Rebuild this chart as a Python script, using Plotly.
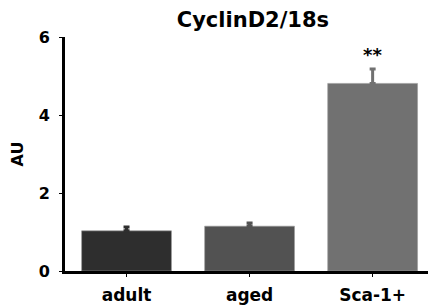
import plotly.graph_objects as go

categories = ["adult", "aged", "Sca-1+"]
values = [1.03, 1.15, 4.81]
errors = [0.10, 0.08, 0.37]
colors = ["#2e2e2e", "#525252", "#717171"]
y_ticks = [0, 2, 4, 6]
title = "CyclinD2/18s"
y_title = "AU"
signif = "**"

FONT = "DejaVu Sans, Liberation Sans, Arial"

fig = go.Figure()
fig.add_trace(go.Bar(
    x=categories, y=values,
    marker=dict(color=colors, line=dict(color="#9a9a9a", width=0.6)),
    width=0.73, showlegend=False, hoverinfo="skip",
))
for c, v, e, col in zip(categories, values, errors, colors):
    fig.add_trace(go.Scatter(
        x=[c], y=[v], mode="markers", marker=dict(size=0, opacity=0),
        error_y=dict(type="data", array=[e], arrayminus=[0], color=col, thickness=3, width=3),
        showlegend=False, hoverinfo="skip"))

fig.add_annotation(x=categories[2], y=values[2] + errors[2], text="<b>" + signif + "</b>",
                   showarrow=False, yanchor="bottom", yshift=2,
                   font=dict(size=18, color="black", family=FONT))

fig.update_layout(
    width=428, height=305,
    margin=dict(l=65, r=0, t=37, b=34),
    plot_bgcolor="white", paper_bgcolor="white",
    showlegend=False,
    font=dict(family=FONT, color="black", size=16),
    title=dict(text="<b>" + title + "</b>", x=0.591, xanchor="center", y=0.934, yanchor="middle",
               font=dict(size=21, color="black", family=FONT)),
)
fig.update_xaxes(
    range=[-0.5, 2.45], showline=True, linecolor="black", linewidth=3,
    ticks="outside", ticklen=3, tickcolor="black", tickwidth=1,
    tickfont=dict(size=17, color="black", family=FONT),
    ticktext=["<b>" + c + "</b>" for c in categories], tickvals=categories,
    showgrid=False, zeroline=False, ticklabelstandoff=4, automargin=False,
)
fig.update_yaxes(
    range=[0, 6], tickvals=y_ticks, ticktext=["<b>%d</b>" % t for t in y_ticks],
    showline=True, linecolor="black", linewidth=3,
    ticks="outside", ticklen=3, tickcolor="black", tickwidth=1,
    tickfont=dict(size=16, color="black", family=FONT),
    showgrid=False, zeroline=False, ticklabelstandoff=6, automargin=False,
    title=dict(text="<b>" + y_title + "</b>", font=dict(size=16, color="black", family=FONT), standoff=12),
)
fig.write_html("out.html", config={"displayModeBar": False},
               post_script="document.body.style.margin='0px';")
